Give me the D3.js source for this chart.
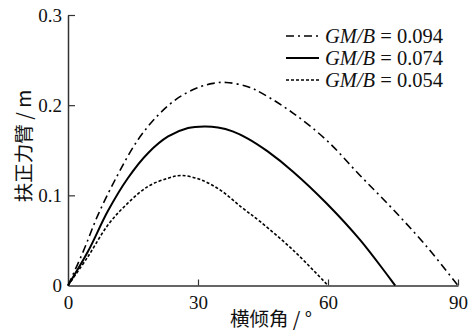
<!DOCTYPE html>
<html><head><meta charset="utf-8">
<script src="https://cdn.jsdelivr.net/npm/d3@7"></script>
<style>
html,body{margin:0;padding:0;background:#fff;}
svg{display:block;}
</style></head>
<body>
<svg id="c" width="472" height="331"></svg>
<script>
// Data
const xTicks = [0, 30, 60, 90];
const yTicks = [0, 0.1, 0.2, 0.3];
const yTickLabels = ["0", "0.1", "0.2", "0.3"];
const seriesNames = ["GM/B = 0.094", "GM/B = 0.074", "GM/B = 0.054"];
const angle094 = [0, 3.5, 6.9, 11.5, 16.2, 20.8, 25.4, 30, 33.5, 36.5, 41.5, 45, 52, 59.7, 67.4, 75.1, 82.8, 90];
const gz094    = [0, 0.0376, 0.078, 0.123, 0.162, 0.189, 0.208, 0.2195, 0.2242, 0.2252, 0.2205, 0.2125, 0.191, 0.161, 0.122, 0.084, 0.043, 0];
const angle074 = [0, 4.6, 9.2, 13.8, 18.5, 23.1, 27.7, 31.5, 34.6, 38, 41.5, 46, 52, 59.7, 67.4, 75.5];
const gz074    = [0, 0.0376, 0.0826, 0.119, 0.147, 0.1653, 0.1747, 0.1764, 0.1753, 0.171, 0.163, 0.149, 0.126, 0.091, 0.0506, 0];
const angle054 = [0, 4.6, 9.2, 13.8, 18.5, 23.1, 26.2, 30.8, 35.4, 40, 44.3, 52, 60];
const gz054    = [0, 0.032, 0.067, 0.0913, 0.110, 0.119, 0.122, 0.117, 0.105, 0.087, 0.071, 0.039, 0];

const svg = d3.select("#c");
const x = d3.scaleLinear().domain([0, 90]).range([68, 458]);
const y = d3.scaleLinear().domain([0, 0.3]).range([285.5, 15]);
const serif = "'Liberation Serif','DejaVu Serif',serif";
const cjk = "'Noto Sans CJK SC','Noto Sans CJK JP',sans-serif";
const axisColor = "#333";

// axes
const xAxis = d3.axisBottom(x).tickValues(xTicks).tickSizeInner(-6).tickSizeOuter(0).tickPadding(10);
const gx = svg.append("g").attr("transform", `translate(0,${y(0)})`).call(xAxis);
gx.select(".domain").attr("stroke", axisColor).attr("stroke-width", 1.5);
gx.selectAll(".tick line").attr("stroke", axisColor).attr("stroke-width", 1.2)
  .attr("display", d => d === 0 ? "none" : null);
gx.selectAll(".tick text").attr("font-family", serif).attr("font-size", 19).attr("fill", "#111");

const yAxis = d3.axisLeft(y).tickValues(yTicks).tickFormat((d, i) => yTickLabels[i])
  .tickSizeInner(-7).tickSizeOuter(0).tickPadding(6);
const gy = svg.append("g").attr("transform", `translate(${x(0)},0)`).call(yAxis);
gy.select(".domain").attr("stroke", axisColor).attr("stroke-width", 1.5);
gy.selectAll(".tick line").attr("stroke", axisColor).attr("stroke-width", 1.2)
  .attr("display", d => d === 0 ? "none" : null);
gy.selectAll(".tick text").attr("font-family", serif).attr("font-size", 19).attr("fill", "#111");

// curves
const styles = [
  {dash: "8,4,2,4", w: 1.6},
  {dash: null, w: 2},
  {dash: "3,2", w: 1.6}
];
const data = [
  angle094.map((a, i) => [a, gz094[i]]),
  angle074.map((a, i) => [a, gz074[i]]),
  angle054.map((a, i) => [a, gz054[i]])
];
const line = d3.line().x(d => x(d[0])).y(d => y(d[1])).curve(d3.curveCatmullRom.alpha(0.5));
data.forEach((d, i) => {
  svg.append("path").attr("d", line(d)).attr("fill", "none").attr("stroke", "#000")
    .attr("stroke-width", styles[i].w).attr("stroke-dasharray", styles[i].dash);
});

// legend
const legY = [36, 58, 80];
seriesNames.forEach((name, i) => {
  svg.append("line").attr("x1", 286).attr("x2", 319).attr("y1", legY[i]).attr("y2", legY[i])
    .attr("stroke", "#000").attr("stroke-width", styles[i].w).attr("stroke-dasharray", styles[i].dash);
  const parts = name.split(" = ");
  const t = svg.append("text").attr("x", 325).attr("y", legY[i] + 6.5)
    .attr("font-family", serif).attr("font-size", 20.5).attr("fill", "#111");
  t.append("tspan").attr("font-style", "italic").text(parts[0]);
  t.append("tspan").text(" = " + parts[1]);
});

// axis titles
svg.append("text").attr("x", 271).attr("y", 326).attr("text-anchor", "middle")
  .attr("font-family", cjk).attr("font-size", 19.5).attr("fill", "#111").text("横倾角 / °");
svg.append("text").attr("transform", "translate(31,146) rotate(-90)").attr("text-anchor", "middle")
  .attr("font-family", cjk).attr("font-size", 19.5).attr("fill", "#111").text("扶正力臂 / m");
</script>
</body></html>
